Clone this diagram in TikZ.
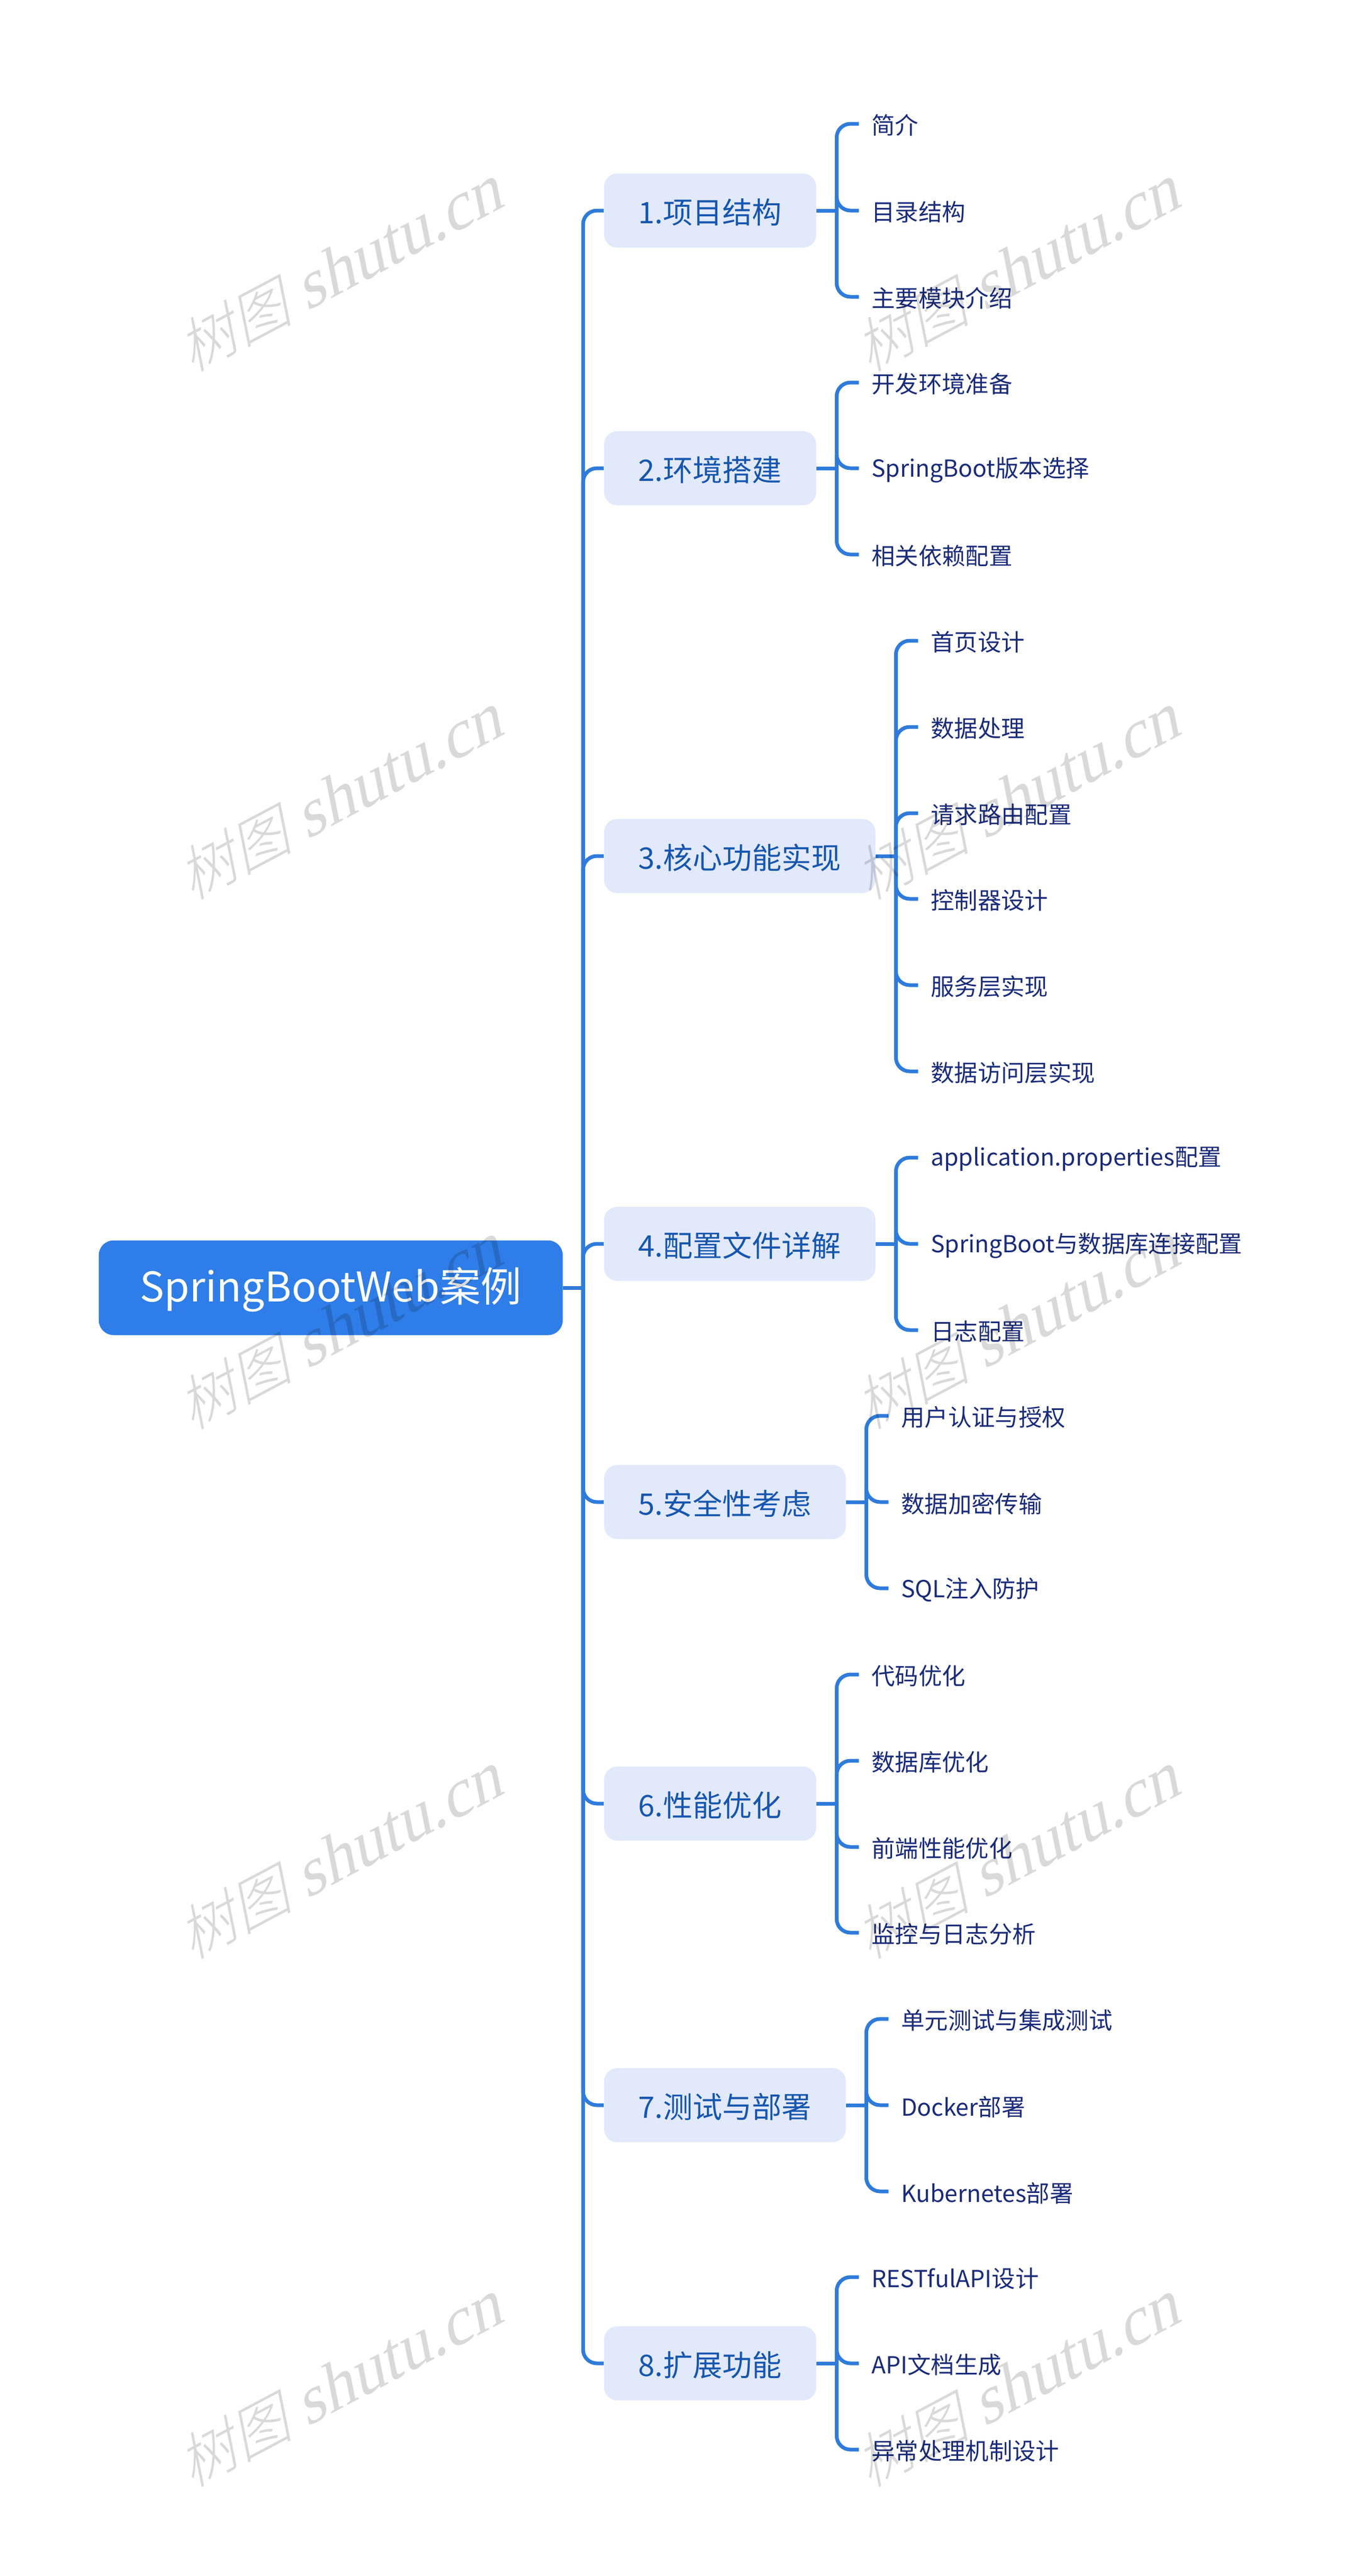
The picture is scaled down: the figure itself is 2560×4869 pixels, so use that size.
\documentclass[tikz,border=0pt]{standalone}
\usepackage{fontspec}
\setmainfont{Noto Sans CJK SC}
\newfontfamily\wmcjk[FakeSlant=0.3]{Noto Sans CJK SC Light}
\newfontfamily\wmlat[FakeSlant=0.3]{Liberation Serif}
\definecolor{rootc}{HTML}{2F7DE8}
\definecolor{parc}{HTML}{E2E9FB}
\definecolor{partx}{HTML}{1656B0}
\definecolor{chtx}{HTML}{1A2B7A}
\definecolor{linkc}{HTML}{2F7BDB}
\newcommand{\tx}[1]{\raisebox{-0.9pt}[\height][\depth]{#1}}
\tikzset{
 rootbox/.style={anchor=west,fill=rootc,rounded corners=8.4pt,minimum width=263.1pt,minimum height=53.7pt,inner sep=0pt,text=white,font=\fontsize{23.2}{28}\selectfont},
 parbox/.style={anchor=west,fill=parc,rounded corners=7.5pt,minimum height=42pt,inner sep=0pt,text=partx,font=\fontsize{16.8}{20}\selectfont},
 chbox/.style={anchor=west,inner xsep=7.0pt,inner ysep=0pt,minimum height=30pt,text=chtx,font=\fontsize{13.3}{16}\selectfont},
 link/.style={draw=linkc,line width=2.1pt,rounded corners=7.8pt},
 wm/.style={rotate=28,text=black,opacity=.15,inner sep=0pt},
}
\newcommand{\wmark}[2]{\node[wm] (w#1#2) at (#1,#2) {{\wmcjk\fontsize{33}{40}\selectfont 树图}\hspace{8pt}{\wmlat\fontsize{38}{46}\selectfont shutu.cn}};}
\begin{document}
\begin{tikzpicture}[x=0.3pt,y=-0.3pt]
\useasboundingbox[fill=white] (0,0) rectangle (2560,4869);
% root
\node[rootbox] (root) at (186,2434) {\tx{SpringBootWeb案例}};
\coordinate (trunk) at (1102,2434);
% parents
\node[parbox,minimum width=120.3pt] (p1) at (1141,398) {\tx{1.项目结构}};
\node[parbox,minimum width=120.3pt] (p2) at (1141,885) {\tx{2.环境搭建}};
\node[parbox,minimum width=153.9pt] (p3) at (1141,1618) {\tx{3.核心功能实现}};
\node[parbox,minimum width=153.9pt] (p4) at (1141,2351) {\tx{4.配置文件详解}};
\node[parbox,minimum width=137.1pt] (p5) at (1141,2839) {\tx{5.安全性考虑}};
\node[parbox,minimum width=120.3pt] (p6) at (1141,3409) {\tx{6.性能优化}};
\node[parbox,minimum width=137.1pt] (p7) at (1141,3979) {\tx{7.测试与部署}};
\node[parbox,minimum width=120.3pt] (p8) at (1141,4467) {\tx{8.扩展功能}};
% bus coordinates
\coordinate (b1) at ([xshift=11.4pt]p1.east);
\coordinate (b2) at ([xshift=11.4pt]p2.east);
\coordinate (b3) at ([xshift=11.4pt]p3.east);
\coordinate (b4) at ([xshift=11.4pt]p4.east);
\coordinate (b5) at ([xshift=11.4pt]p5.east);
\coordinate (b6) at ([xshift=11.4pt]p6.east);
\coordinate (b7) at ([xshift=11.4pt]p7.east);
\coordinate (b8) at ([xshift=11.4pt]p8.east);
% children
\node[chbox] (c1a) at ([xshift=12.6pt]b1 |- 0,234) {\tx{简介}};
\node[chbox] (c1b) at ([xshift=12.6pt]b1 |- 0,398) {\tx{目录结构}};
\node[chbox] (c1c) at ([xshift=12.6pt]b1 |- 0,561) {\tx{主要模块介绍}};
\node[chbox] (c2a) at ([xshift=12.6pt]b2 |- 0,723) {\tx{开发环境准备}};
\node[chbox] (c2b) at ([xshift=12.6pt]b2 |- 0,885) {\tx{SpringBoot版本选择}};
\node[chbox] (c2c) at ([xshift=12.6pt]b2 |- 0,1048) {\tx{相关依赖配置}};
\node[chbox] (c3a) at ([xshift=12.6pt]b3 |- 0,1211) {\tx{首页设计}};
\node[chbox] (c3b) at ([xshift=12.6pt]b3 |- 0,1374) {\tx{数据处理}};
\node[chbox] (c3c) at ([xshift=12.6pt]b3 |- 0,1537) {\tx{请求路由配置}};
\node[chbox] (c3d) at ([xshift=12.6pt]b3 |- 0,1699) {\tx{控制器设计}};
\node[chbox] (c3e) at ([xshift=12.6pt]b3 |- 0,1862) {\tx{服务层实现}};
\node[chbox] (c3f) at ([xshift=12.6pt]b3 |- 0,2025) {\tx{数据访问层实现}};
\node[chbox] (c4a) at ([xshift=12.6pt]b4 |- 0,2188) {\tx{application.properties配置}};
\node[chbox] (c4b) at ([xshift=12.6pt]b4 |- 0,2351) {\tx{SpringBoot与数据库连接配置}};
\node[chbox] (c4c) at ([xshift=12.6pt]b4 |- 0,2514) {\tx{日志配置}};
\node[chbox] (c5a) at ([xshift=12.6pt]b5 |- 0,2676) {\tx{用户认证与授权}};
\node[chbox] (c5b) at ([xshift=12.6pt]b5 |- 0,2839) {\tx{数据加密传输}};
\node[chbox] (c5c) at ([xshift=12.6pt]b5 |- 0,3002) {\tx{SQL注入防护}};
\node[chbox] (c6a) at ([xshift=12.6pt]b6 |- 0,3165) {\tx{代码优化}};
\node[chbox] (c6b) at ([xshift=12.6pt]b6 |- 0,3328) {\tx{数据库优化}};
\node[chbox] (c6c) at ([xshift=12.6pt]b6 |- 0,3491) {\tx{前端性能优化}};
\node[chbox] (c6d) at ([xshift=12.6pt]b6 |- 0,3653) {\tx{监控与日志分析}};
\node[chbox] (c7a) at ([xshift=12.6pt]b7 |- 0,3816) {\tx{单元测试与集成测试}};
\node[chbox] (c7b) at ([xshift=12.6pt]b7 |- 0,3979) {\tx{Docker部署}};
\node[chbox] (c7c) at ([xshift=12.6pt]b7 |- 0,4142) {\tx{Kubernetes部署}};
\node[chbox] (c8a) at ([xshift=12.6pt]b8 |- 0,4304) {\tx{RESTfulAPI设计}};
\node[chbox] (c8b) at ([xshift=12.6pt]b8 |- 0,4467) {\tx{API文档生成}};
\node[chbox] (c8c) at ([xshift=12.6pt]b8 |- 0,4630) {\tx{异常处理机制设计}};
% connectors
\draw[link] (root.east) -- (trunk);
\foreach \p in {1,...,8} {
  \draw[link] (trunk) |- (p\p.west);
  \draw[link] (p\p.east) -- (b\p);
}
\foreach \p/\c in {1/a,1/b,1/c,2/a,2/b,2/c,3/a,3/b,3/c,3/d,3/e,3/f,4/a,4/b,4/c,5/a,5/b,5/c,6/a,6/b,6/c,6/d,7/a,7/b,7/c,8/a,8/b,8/c} {
  \draw[link] (b\p) |- (c\p\c.west);
}
% watermarks
\foreach \y in {510,1508,2509,3510,4508} {
  \wmark{640}{\y}
  \wmark{1920}{\y}
}
\end{tikzpicture}
\end{document}
